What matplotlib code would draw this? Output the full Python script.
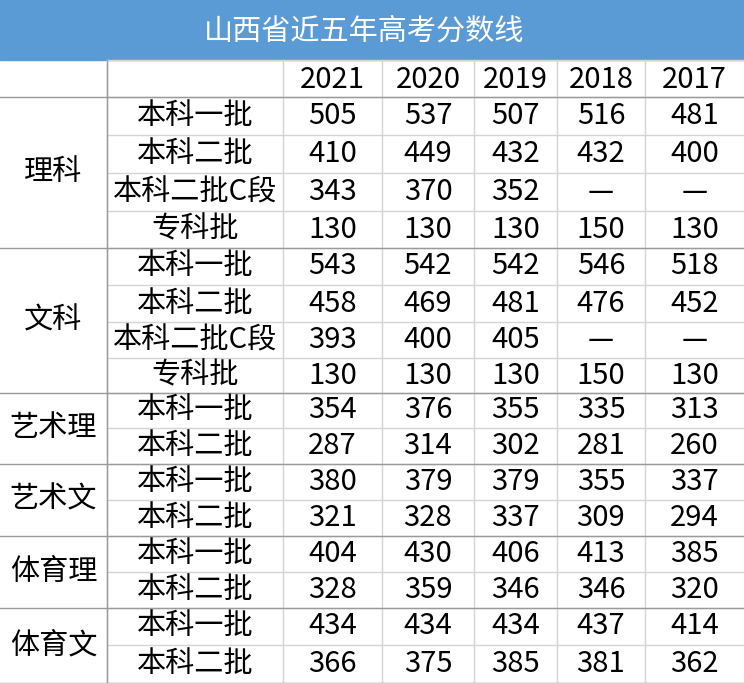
import matplotlib.pyplot as plt

plt.rcParams['font.family'] = ['Noto Sans CJK SC', 'DejaVu Sans']

title = "山西省近五年高考分数线"
years = ["2021", "2020", "2019", "2018", "2017"]
groups = ["理科", "文科", "艺术理", "艺术文", "体育理", "体育文"]
group_rows = [4, 4, 2, 2, 2, 2]
batches = ["本科一批", "本科二批", "本科二批C段", "专科批",
           "本科一批", "本科二批", "本科二批C段", "专科批",
           "本科一批", "本科二批", "本科一批", "本科二批",
           "本科一批", "本科二批", "本科一批", "本科二批"]
scores = [
    ["505", "537", "507", "516", "481"],
    ["410", "449", "432", "432", "400"],
    ["343", "370", "352", "—", "—"],
    ["130", "130", "130", "150", "130"],
    ["543", "542", "542", "546", "518"],
    ["458", "469", "481", "476", "452"],
    ["393", "400", "405", "—", "—"],
    ["130", "130", "130", "150", "130"],
    ["354", "376", "355", "335", "313"],
    ["287", "314", "302", "281", "260"],
    ["380", "379", "379", "355", "337"],
    ["321", "328", "337", "309", "294"],
    ["404", "430", "406", "413", "385"],
    ["328", "359", "346", "346", "320"],
    ["434", "434", "434", "437", "414"],
    ["366", "375", "385", "381", "362"],
]

W, H = 744, 683
fs = 21
fig = plt.figure(figsize=(W / 100, H / 100), dpi=100)
ax = fig.add_axes([0, 0, 1, 1])
ax.set_xlim(0, W)
ax.set_ylim(H, 0)
ax.axis('off')

col_x = [0, 107, 283, 382, 474, 557, 645, 744]
row_y = [97, 135, 173, 211, 248, 285, 322, 358, 393, 428, 464, 500, 536, 572, 608, 645, 683]

# title band
ax.add_patch(plt.Rectangle((0, 0), W, 60, color='#5B9BD5'))
ax.text(W / 2 - 8, 32, title, color='white', fontsize=fs, fontweight='medium', ha='center', va='center')

grid = '#D4D4D4'
dark = '#9A9A9A'
for x in col_x[1:-1]:
    ax.plot([x, x], [60, H], color=grid, lw=1)
for y in [60] + row_y:
    ax.plot([col_x[1], W], [y, y], color=grid, lw=1)

# header row
for i, yr in enumerate(years):
    ax.text((col_x[i + 2] + col_x[i + 3]) / 2, 80, yr, fontsize=fs, ha='center', va='center')

# group separators and labels
r = 0
for g, n in zip(groups, group_rows):
    top, bot = row_y[r], row_y[r + n]
    ax.plot([0, W], [top, top], color=dark, lw=1)
    ax.text(col_x[1] / 2, (top + bot) / 2, g, fontsize=fs, ha='center', va='center')
    r += n
ax.plot([0, W], [row_y[-1], row_y[-1]], color=dark, lw=1)
ax.plot([col_x[1], col_x[1]], [60, H], color=dark, lw=1)

for k, (b, row) in enumerate(zip(batches, scores)):
    yc = (row_y[k] + row_y[k + 1]) / 2
    ax.text((col_x[1] + col_x[2]) / 2, yc, b, fontsize=fs, ha='center', va='center')
    for i, v in enumerate(row):
        ax.text((col_x[i + 2] + col_x[i + 3]) / 2, yc, v, fontsize=fs, ha='center', va='center')

fig.savefig('out.png', dpi=100)
